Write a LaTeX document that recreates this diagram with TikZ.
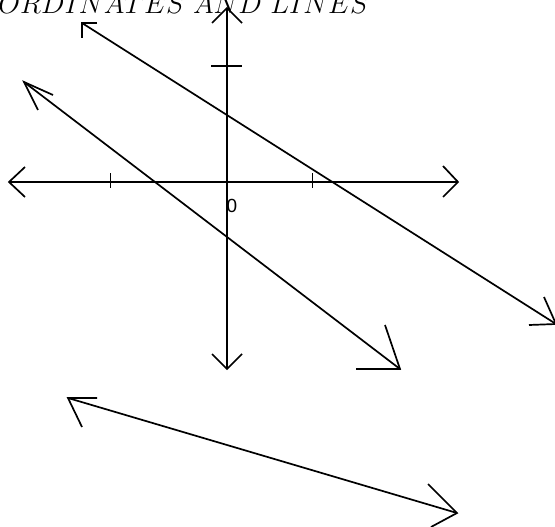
\documentclass[tikz,border=0pt]{standalone}
\usepackage{fontspec}
\newfontfamily\labelfont{Liberation Sans}
\begin{document}
\begin{tikzpicture}[x=1pt,y=-1pt,
  stroke/.style={line width=1.7pt,black},
  tickmark/.style={line width=1.4pt,black}]
\useasboundingbox (0,0) rectangle (555,527);
% title
\node[anchor=base east,inner sep=0pt,scale=1.125] (title) at (369,13.5)
  {\fontsize{24.88}{28}\selectfont $COORDINATES\ AND\ LINES$};
% axes
\coordinate (xl) at (9,182);   \coordinate (xr) at (458,182);
\coordinate (yt) at (227,8);   \coordinate (yb) at (227,369);
\coordinate (xla) at (25,167); \coordinate (xlb) at (25,197);
\coordinate (xra) at (443,166);\coordinate (xrb) at (443,197);
\coordinate (yta) at (212,23); \coordinate (ytb) at (242,23);
\coordinate (yba) at (212,354);\coordinate (ybb) at (242,354);
\draw[stroke] (xl) -- (xr);
\draw[stroke] (yt) -- (yb);
\draw[stroke] (xla) -- (xl) -- (xlb);
\draw[stroke] (xra) -- (xr) -- (xrb);
\draw[stroke] (yta) -- (yt) -- (ytb);
\draw[stroke] (yba) -- (yb) -- (ybb);
% ticks
\coordinate (t1a) at (110.7,173); \coordinate (t1b) at (110.7,188);
\coordinate (t2a) at (312.7,173); \coordinate (t2b) at (312.7,188);
\coordinate (t3a) at (211,66);    \coordinate (t3b) at (242,66);
\draw[tickmark] (t1a) -- (t1b);
\draw[tickmark] (t2a) -- (t2b);
\draw[tickmark] (t3a) -- (t3b);
% origin label
\node[inner sep=0pt] (zero) at (232,206) {\labelfont\fontsize{19}{21}\selectfont 0};
% line 1
\coordinate (l1a) at (82,23);  \coordinate (l1b) at (556,324);
\coordinate (l1aa) at (97,23); \coordinate (l1ab) at (82,38);
\coordinate (l1ba) at (529,325); \coordinate (l1bb) at (544,297);
\draw[stroke] (l1a) -- (l1b);
\draw[stroke] (l1aa) -- (l1a) -- (l1ab);
\draw[stroke] (l1ba) -- (l1b) -- (l1bb);
% line 2
\coordinate (l2a) at (24,82);  \coordinate (l2b) at (400,369);
\coordinate (l2aa) at (53,95); \coordinate (l2ab) at (38,110);
\coordinate (l2ba) at (356,369); \coordinate (l2bb) at (385,325);
\draw[stroke] (l2a) -- (l2b);
\draw[stroke] (l2aa) -- (l2a) -- (l2ab);
\draw[stroke] (l2ba) -- (l2b) -- (l2bb);
% line 3
\coordinate (l3a) at (68,398);  \coordinate (l3b) at (457,513);
\coordinate (l3aa) at (97,398); \coordinate (l3ab) at (82,427);
\coordinate (l3ba) at (428,484); \coordinate (l3bb) at (431,527);
\draw[stroke] (l3a) -- (l3b);
\draw[stroke] (l3aa) -- (l3a) -- (l3ab);
\draw[stroke] (l3ba) -- (l3b) -- (l3bb);
\end{tikzpicture}
\end{document}
